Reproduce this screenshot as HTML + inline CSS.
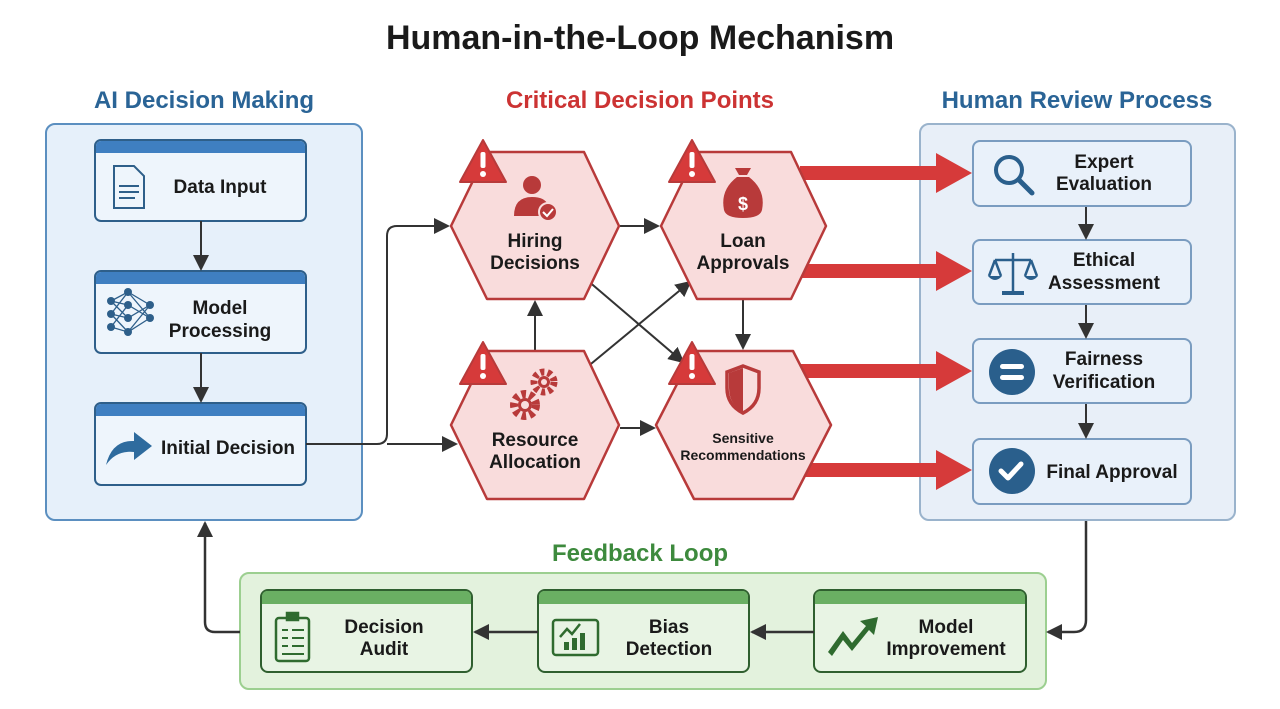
<!DOCTYPE html>
<html><head><meta charset="utf-8"><style>
body{margin:0;background:#fff}
svg{display:block}
text{font-family:"Liberation Sans",sans-serif;font-weight:bold}
</style></head><body>
<svg width="1280" height="709" viewBox="0 0 1280 709" xmlns="http://www.w3.org/2000/svg">
<defs>
<marker id="ah2" markerWidth="16" markerHeight="16" refX="14" refY="8" orient="auto" markerUnits="userSpaceOnUse"><path d="M0,0 L16,8 L0,16 z" fill="#333"/></marker>
</defs>
<text x="640" y="49" font-size="34" text-anchor="middle" fill="#1a1a1a">Human-in-the-Loop Mechanism</text>
<text x="204" y="108" font-size="24" text-anchor="middle" fill="#2a6496">AI Decision Making</text>
<text x="640" y="108" font-size="24" text-anchor="middle" fill="#cc3333">Critical Decision Points</text>
<text x="1077" y="108" font-size="24" text-anchor="middle" fill="#2a6496">Human Review Process</text>

<!-- left panel -->
<rect x="46" y="124" width="316" height="396" rx="9" fill="#e6f0fa" stroke="#5b8fc0" stroke-width="2"/>
<g stroke="#2e5f8a" stroke-width="2">
<rect x="95" y="140" width="211" height="81" rx="6" fill="#eef5fc"/>
<rect x="95" y="271" width="211" height="82" rx="6" fill="#eef5fc"/>
<rect x="95" y="403" width="211" height="82" rx="6" fill="#eef5fc"/>
</g>
<g fill="#3f7fc1"><path d="M96,153 V146 a5,5 0 0 1 5,-5 H300 a5,5 0 0 1 5,5 V153z"/><path d="M96,284 V277 a5,5 0 0 1 5,-5 H300 a5,5 0 0 1 5,5 V284z"/><path d="M96,416 V409 a5,5 0 0 1 5,-5 H300 a5,5 0 0 1 5,5 V416z"/></g>
<text x="220" y="193" font-size="19" text-anchor="middle" fill="#1a1a1a">Data Input</text>
<text x="220" y="314" font-size="19" text-anchor="middle" fill="#1a1a1a">Model</text>
<text x="220" y="337" font-size="19" text-anchor="middle" fill="#1a1a1a">Processing</text>
<text x="228" y="454" font-size="19" text-anchor="middle" fill="#1a1a1a">Initial Decision</text>
<path d="M114,166 h20 l10,10 v32 h-30 z" fill="#eef5fc" stroke="#2e5f8a" stroke-width="2"/>
<g stroke="#2e5f8a" stroke-width="2"><line x1="119" y1="186" x2="139" y2="186"/><line x1="119" y1="192" x2="139" y2="192"/><line x1="119" y1="198" x2="135" y2="198"/></g>
<g stroke="#2e5f8a" stroke-width="1.3" fill="none"><path d="M111,301 L128,292 L150,305 M111,301 L128,305 L150,318 M111,314 L128,292 M111,314 L128,318 L150,305 M111,327 L128,305 M111,327 L128,332 L150,318 M111,301 L128,318 M111,314 L128,332 M128,292 L150,318 M128,332 L150,305"/></g>
<g fill="#2e5f8a"><circle cx="111" cy="301" r="4"/><circle cx="111" cy="314" r="4"/><circle cx="111" cy="327" r="4"/><circle cx="128" cy="292" r="4"/><circle cx="128" cy="305" r="4"/><circle cx="128" cy="318" r="4"/><circle cx="128" cy="332" r="4"/><circle cx="150" cy="305" r="4"/><circle cx="150" cy="318" r="4"/></g>
<path d="M106,465 Q112,440 134,441 V432 L152,446 L134,460 V452 Q116,450 106,465z" fill="#2e6b9e"/>
<line x1="201" y1="221" x2="201" y2="269" stroke="#333" stroke-width="2" marker-end="url(#ah2)"/>
<line x1="201" y1="353" x2="201" y2="401" stroke="#333" stroke-width="2" marker-end="url(#ah2)"/>

<!-- connectors -->
<g stroke="#333" stroke-width="2" fill="none">
<path d="M306,444 H377 Q387,444 387,434 V236 Q387,226 397,226 H448" marker-end="url(#ah2)"/>
<path d="M387,444 H456" marker-end="url(#ah2)"/>
<path d="M620,226 H658" marker-end="url(#ah2)"/>
<path d="M535,352 V302" marker-end="url(#ah2)"/>
<path d="M586,368 L690,282" marker-end="url(#ah2)"/>
<path d="M587,280 L683,362" marker-end="url(#ah2)"/>
<path d="M743,300 V348" marker-end="url(#ah2)"/>
<path d="M620,428 H654" marker-end="url(#ah2)"/>
</g>

<!-- right panel -->
<rect x="920" y="124" width="315" height="396" rx="9" fill="#e8eff8" stroke="#9ab3cc" stroke-width="2"/>
<g fill="#e9f1fa" stroke="#7a9cc0" stroke-width="2">
<rect x="973" y="141" width="218" height="65" rx="7"/>
<rect x="973" y="240" width="218" height="64" rx="7"/>
<rect x="973" y="339" width="218" height="64" rx="7"/>
<rect x="973" y="439" width="218" height="65" rx="7"/>
</g>

<!-- red arrows -->
<g fill="#d63a3a">
<path d="M800,166 H936 V153 L972,173 L936,193 V180 H800z"/>
<path d="M800,264 H936 V251 L972,271 L936,291 V278 H800z"/>
<path d="M800,364 H936 V351 L972,371 L936,391 V378 H800z"/>
<path d="M805,463 H936 V450 L972,470 L936,490 V477 H805z"/>
</g>

<!-- hexagons -->
<g fill="#f9dcdc" stroke="#b83a3a" stroke-width="2.5" stroke-linejoin="round">
<polygon points="451,226 487,152 584,152 619,226 584,299 487,299"/>
<polygon points="661,226 697,152 791,152 826,226 791,299 697,299"/>
<polygon points="451,425 487,351 584,351 619,425 584,499 487,499"/>
<polygon points="656,425 694,351 793,351 831,425 793,499 694,499"/>
</g>
<g font-size="19" text-anchor="middle" fill="#1a1a1a">
<text x="535" y="247">Hiring</text><text x="535" y="269">Decisions</text>
<text x="743" y="247">Loan</text><text x="743" y="269">Approvals</text>
<text x="535" y="446">Resource</text><text x="535" y="468">Allocation</text>
<text x="743" y="443" font-size="14">Sensitive</text><text x="743" y="460" font-size="14">Recommendations</text>
</g>
<g>
<g transform="translate(483,140)"><path d="M0,0 L23,42 H-23z" fill="#d63a3a" stroke="#b83a3a" stroke-width="2" stroke-linejoin="round"/><rect x="-2.5" y="12" width="5" height="16" rx="2" fill="#fff"/><circle cx="0" cy="34" r="3" fill="#fff"/></g>
<g transform="translate(692,140)"><path d="M0,0 L23,42 H-23z" fill="#d63a3a" stroke="#b83a3a" stroke-width="2" stroke-linejoin="round"/><rect x="-2.5" y="12" width="5" height="16" rx="2" fill="#fff"/><circle cx="0" cy="34" r="3" fill="#fff"/></g>
<g transform="translate(483,342)"><path d="M0,0 L23,42 H-23z" fill="#d63a3a" stroke="#b83a3a" stroke-width="2" stroke-linejoin="round"/><rect x="-2.5" y="12" width="5" height="16" rx="2" fill="#fff"/><circle cx="0" cy="34" r="3" fill="#fff"/></g>
<g transform="translate(692,342)"><path d="M0,0 L23,42 H-23z" fill="#d63a3a" stroke="#b83a3a" stroke-width="2" stroke-linejoin="round"/><rect x="-2.5" y="12" width="5" height="16" rx="2" fill="#fff"/><circle cx="0" cy="34" r="3" fill="#fff"/></g>
</g>
<g fill="#b83a3a">
<circle cx="532" cy="185" r="9"/><path d="M514,216 Q514,197 532,197 Q545,197 548,205 L548,216z"/><circle cx="548" cy="212" r="9" stroke="#f9dcdc" stroke-width="2"/>
<path d="M735,168 h16 l-4,7 h-8z"/><path d="M737,177 h12 Q766,190 762,210 Q760,218 743,218 Q726,218 724,210 Q720,190 737,177z"/>
<path d="M727,372 L743,366 L759,372 V388 Q759,405 743,413 Q727,405 727,388z" fill="#f9dcdc" stroke="#b83a3a" stroke-width="3.5"/><path d="M743,368 V412 Q729,404 729,388 V373z"/>
<circle cx="544" cy="382" r="10" fill="none" stroke="#b83a3a" stroke-width="7" stroke-dasharray="4 3.2"/><circle cx="544" cy="382" r="6"/>
<circle cx="525" cy="405" r="11" fill="none" stroke="#b83a3a" stroke-width="8" stroke-dasharray="4.5 3.5"/><circle cx="525" cy="405" r="7"/>
</g>
<circle cx="544" cy="382" r="3" fill="#f9dcdc"/><circle cx="525" cy="405" r="4" fill="#f9dcdc"/>
<text x="743" y="210" font-size="18" text-anchor="middle" fill="#fff">$</text>
<path d="M543,212 l4,4 l6,-7" stroke="#fff" stroke-width="2" fill="none"/>

<g font-size="19" text-anchor="middle" fill="#1a1a1a">
<text x="1104" y="168">Expert</text><text x="1104" y="190">Evaluation</text>
<text x="1104" y="266">Ethical</text><text x="1104" y="289">Assessment</text>
<text x="1104" y="365">Fairness</text><text x="1104" y="388">Verification</text>
<text x="1112" y="478">Final Approval</text>
</g>
<g stroke="#2a5f8c" fill="none" stroke-width="4"><circle cx="1009" cy="170" r="13"/><line x1="1019" y1="180" x2="1032" y2="193" stroke-width="5" stroke-linecap="round"/></g>
<g stroke="#2a5f8c" stroke-width="2.5" fill="none"><line x1="1013" y1="253" x2="1013" y2="292"/><line x1="995" y1="260" x2="1031" y2="260"/><path d="M995,260 L989,276 M995,260 L1001,276 M1031,260 L1025,276 M1031,260 L1037,276"/><path d="M1002,293 H1024" stroke-width="4"/></g>
<g fill="#2a5f8c"><path d="M988,276 H1002 Q995,284 988,276z"/><path d="M1024,276 H1038 Q1031,284 1024,276z"/>
<circle cx="1012" cy="372" r="23"/><circle cx="1012" cy="471" r="23"/></g>
<g fill="#fff"><rect x="1000" y="364" width="24" height="5" rx="2.5"/><rect x="1000" y="375" width="24" height="5" rx="2.5"/></g>
<path d="M1001,471 l7,7 l13,-14" stroke="#fff" stroke-width="5" fill="none" stroke-linecap="round" stroke-linejoin="round"/>
<g stroke="#333" stroke-width="2"><line x1="1086" y1="207" x2="1086" y2="238" marker-end="url(#ah2)"/><line x1="1086" y1="305" x2="1086" y2="337" marker-end="url(#ah2)"/><line x1="1086" y1="404" x2="1086" y2="437" marker-end="url(#ah2)"/></g>

<!-- feedback loop -->
<text x="640" y="561" font-size="24" text-anchor="middle" fill="#3d8a3d">Feedback Loop</text>
<rect x="240" y="573" width="806" height="116" rx="9" fill="#e3f2dd" stroke="#9ccf90" stroke-width="2"/>
<g fill="#e8f4e4" stroke="#2f5f2f" stroke-width="2">
<rect x="261" y="590" width="211" height="82" rx="7"/>
<rect x="538" y="590" width="211" height="82" rx="7"/>
<rect x="814" y="590" width="212" height="82" rx="7"/>
</g>
<g fill="#6aaf63"><path d="M262,604 V596 a5,5 0 0 1 5,-5 H466 a5,5 0 0 1 5,5 V604z"/><path d="M539,604 V596 a5,5 0 0 1 5,-5 H743 a5,5 0 0 1 5,5 V604z"/><path d="M815,604 V596 a5,5 0 0 1 5,-5 H1020 a5,5 0 0 1 5,5 V604z"/></g>
<g font-size="19" text-anchor="middle" fill="#1a1a1a">
<text x="384" y="633">Decision</text><text x="384" y="655">Audit</text>
<text x="669" y="633">Bias</text><text x="669" y="655">Detection</text>
<text x="946" y="633">Model</text><text x="946" y="655">Improvement</text>
</g>
<g stroke="#2f6b2f" stroke-width="2.5" fill="none"><rect x="276" y="618" width="33" height="43" rx="3"/><rect x="287" y="613" width="11" height="7" fill="#2f6b2f"/><path d="M282,630 h6 M292,630 h12 M282,638 h6 M292,638 h12 M282,646 h6 M292,646 h12 M282,654 h22" stroke-width="2"/>
<rect x="553" y="620" width="45" height="35" rx="3"/><path d="M560,637 l7,-8 l5,5 l8,-10"/></g>
<g fill="#2f6b2f"><rect x="564" y="642" width="5" height="8"/><rect x="572" y="638" width="5" height="12"/><rect x="580" y="633" width="5" height="17"/>
<path d="M828,652 L843,631 L852,643 L866,626 L860,621 L878,617 L874,635 L869,630 L852,651 L843,640 L832,656z"/></g>
<g stroke="#333" stroke-width="2.5" fill="none">
<path d="M814,632 H752" marker-end="url(#ah2)"/>
<path d="M538,632 H475" marker-end="url(#ah2)"/>
<path d="M1086,521 V620 Q1086,632 1074,632 H1048" marker-end="url(#ah2)"/>
<path d="M240,632 H215 Q205,632 205,622 V523" marker-end="url(#ah2)"/>
</g>
</svg>
</body></html>
